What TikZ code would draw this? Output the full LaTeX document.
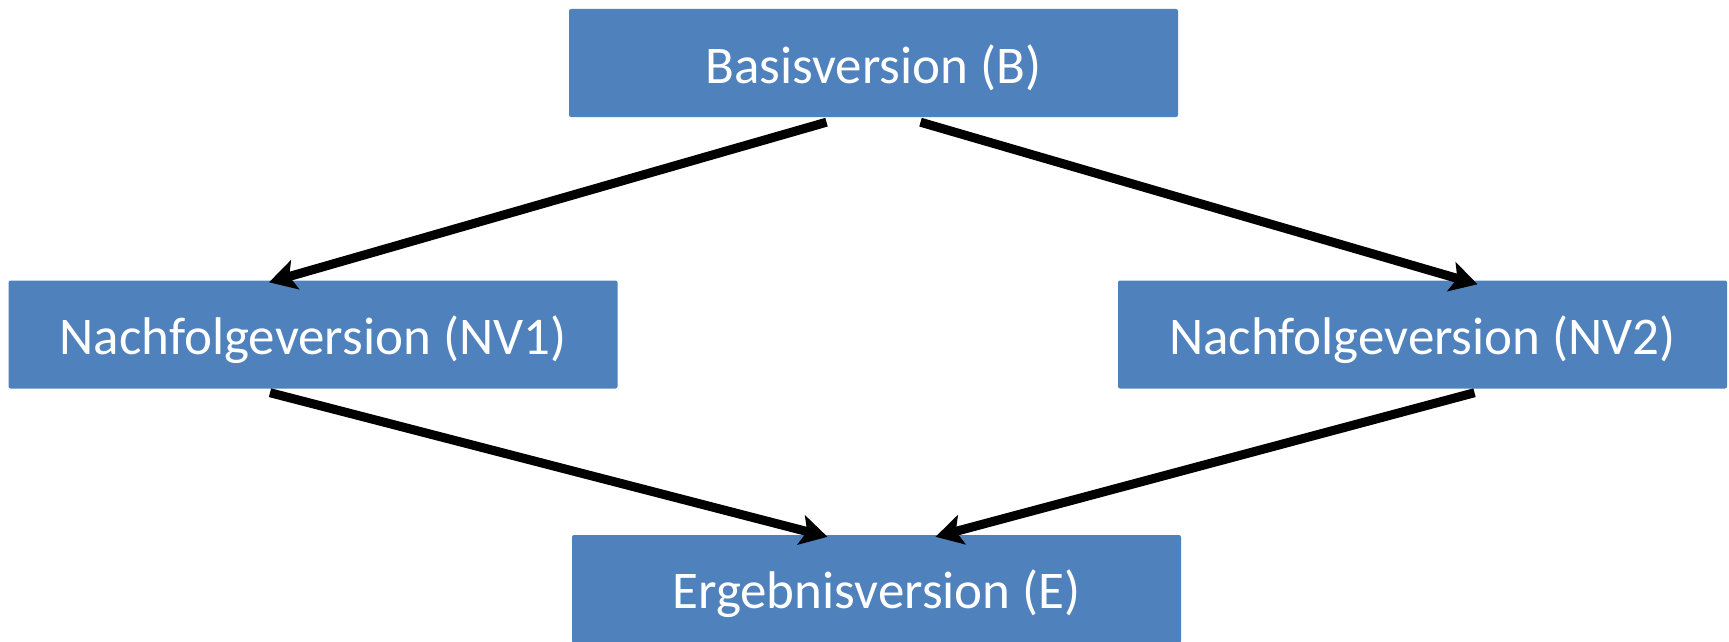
\documentclass[tikz,border=0pt]{standalone}
\usepackage{fontspec}
\setmainfont{Carlito}
\usetikzlibrary{arrows.meta}
\definecolor{boxblue}{HTML}{4F81BD}
\newcommand{\lowtext}[1]{\raisebox{-5pt}[\height][\depth]{#1}}
\begin{document}
\begin{tikzpicture}[x=1pt,y=-1pt,
  vbox/.style={fill=boxblue, rounded corners=2pt, minimum width=609pt, minimum height=108pt, inner sep=0pt, text=white, font=\fontsize{53}{58}\selectfont},
  conn/.style={line width=9pt, -{Stealth[length=27pt,width=30pt,inset=6pt]}, black}]
\useasboundingbox (0,0) rectangle (1729,642);
\node[vbox] (B) at (873.5,63) {\lowtext{Basisversion (B)}};
\node[vbox] (NV1) at (313,334.5) {\lowtext{Nachfolgeversion (NV1)}};
\node[vbox] (NV2) at (1422.5,334.5) {\lowtext{Nachfolgeversion (NV2)}};
\node[vbox] (E) at (876.5,589) {\lowtext{Ergebnisversion (E)}};
\coordinate (b1) at ([xshift=-47pt,yshift=-5pt]B.south);
\coordinate (b2) at ([xshift=47pt,yshift=-5pt]B.south);
\coordinate (n1t) at ([xshift=-44pt,yshift=-2pt]NV1.north);
\coordinate (n2t) at ([xshift=55pt,yshift=-4pt]NV2.north);
\coordinate (n1b) at ([xshift=-43pt,yshift=-4pt]NV1.south);
\coordinate (n2b) at ([xshift=52pt,yshift=-4pt]NV2.south);
\coordinate (e1) at ([xshift=-49pt,yshift=-2pt]E.north);
\coordinate (e2) at ([xshift=59pt,yshift=-2pt]E.north);
\draw[conn] (b1) -- (n1t);
\draw[conn] (b2) -- (n2t);
\draw[conn] (n1b) -- (e1);
\draw[conn] (n2b) -- (e2);
\end{tikzpicture}
\end{document}
